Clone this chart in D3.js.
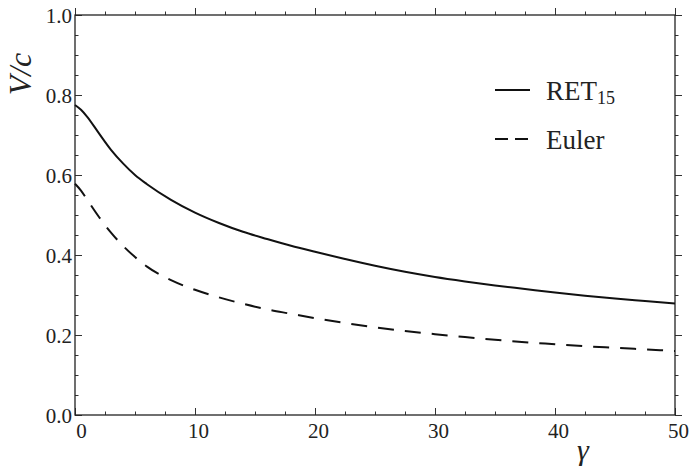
<!DOCTYPE html>
<html>
<head>
<meta charset="utf-8">
<script src="https://cdn.jsdelivr.net/npm/d3@7"></script>
<style>
  body { margin: 0; background: #fff; }
  svg { display: block; }
  svg text { font-family: "Liberation Serif", "Times New Roman", Tinos, "Nimbus Roman", FreeSerif, "DejaVu Serif", serif; fill: #222; }
</style>
</head>
<body>
<div class="chart"></div>
<script>
// values
const gammaValues = [0, 0.5, 1, 2, 3, 4, 5, 6, 8, 10, 12, 14, 16, 18, 20, 22.5, 25, 27.5, 30, 32.5, 35, 37.5, 40, 42.5, 45, 47.5, 50];
const retValues   = [0.775, 0.763, 0.746, 0.704, 0.663, 0.629, 0.600, 0.577, 0.538, 0.506, 0.480, 0.458, 0.440, 0.423, 0.408, 0.390, 0.373, 0.358, 0.345, 0.334, 0.324, 0.315, 0.306, 0.298, 0.291, 0.285, 0.279];
const eulerValues = [0.578, 0.561, 0.539, 0.495, 0.456, 0.423, 0.395, 0.371, 0.337, 0.313, 0.294, 0.278, 0.264, 0.253, 0.242, 0.230, 0.219, 0.210, 0.202, 0.195, 0.188, 0.182, 0.177, 0.172, 0.168, 0.164, 0.160];

const xMajorTicks = [0, 10, 20, 30, 40, 50];
const xMinorTicks = d3.range(0, 50.01, 2.5);
const yMajorTicks = [0, 0.2, 0.4, 0.6, 0.8, 1.0];
const yMinorTicks = d3.range(0, 1.001, 0.05);

const legendNames = ["RET", "Euler"];

document.addEventListener("DOMContentLoaded", function () {
    const width = 689, height = 473;
    const margin = { top: 15, right: 14, bottom: 58, left: 75 };
    const w = width - margin.left - margin.right;
    const h = height - margin.top - margin.bottom;

    const svg = d3.select(".chart").append("svg")
        .attr("width", width)
        .attr("height", height);

    const g = svg.append("g")
        .attr("transform", `translate(${margin.left},${margin.top})`);

    const x = d3.scaleLinear().domain([0, 50]).range([0, w]);
    const y = d3.scaleLinear().domain([0, 1]).range([h, 0]);

    // frame ticks, pointing inwards, on all four sides
    function tickAxis(axisFn, scale, values, size, fmt) {
        return axisFn(scale).tickValues(values).tickSizeInner(-size).tickSizeOuter(0).tickFormat(fmt || "");
    }

    const bottom = g.append("g").attr("transform", `translate(0,${h})`);
    bottom.call(tickAxis(d3.axisBottom, x, xMinorTicks, 3.5));
    bottom.append("g").call(tickAxis(d3.axisBottom, x, xMajorTicks, 7, d3.format("d")));

    const top = g.append("g");
    top.call(tickAxis(d3.axisTop, x, xMinorTicks, -3.5));
    top.append("g").call(tickAxis(d3.axisTop, x, xMajorTicks, -7));

    const left = g.append("g");
    left.call(tickAxis(d3.axisLeft, y, yMinorTicks, 3.5));
    left.append("g").call(tickAxis(d3.axisLeft, y, yMajorTicks, 7, d3.format(".1f")));

    const right = g.append("g").attr("transform", `translate(${w},0)`);
    right.call(tickAxis(d3.axisRight, y, yMinorTicks, -3.5));
    right.append("g").call(tickAxis(d3.axisRight, y, yMajorTicks, -7));

    g.selectAll("g").attr("font-family", null);
    g.selectAll(".tick line").attr("stroke", "#333").attr("stroke-width", 1);
    g.selectAll(".domain").remove();
    g.selectAll(".tick text").attr("fill", "#222").style("font-size", "21px");

    bottom.selectAll(".tick text").attr("y", 8).attr("dy", "0.71em").attr("dx", 3);
    bottom.selectAll(".tick text").filter(d => d === 0).attr("dx", 6);
    left.selectAll(".tick text").attr("x", -3).attr("dy", "0.36em");

    g.append("rect")
        .attr("width", w).attr("height", h)
        .attr("fill", "none").attr("stroke", "#222").attr("stroke-width", 1.3);

    // curves
    const retData = gammaValues.map((gm, i) => ({ g: gm, v: retValues[i] }));
    const eulerData = gammaValues.map((gm, i) => ({ g: gm, v: eulerValues[i] }));

    const line = d3.line()
        .x(d => x(d.g))
        .y(d => y(d.v))
        .curve(d3.curveMonotoneX);

    g.append("path").datum(retData)
        .attr("fill", "none").attr("stroke", "#111").attr("stroke-width", 2)
        .attr("d", line);

    g.append("path").datum(eulerData)
        .attr("fill", "none").attr("stroke", "#111").attr("stroke-width", 2)
        .attr("stroke-dasharray", "16,11")
        .attr("d", line);

    // legend
    const legend = svg.append("g");
    legend.append("line").attr("x1", 495).attr("x2", 530).attr("y1", 90).attr("y2", 90)
        .attr("stroke", "#111").attr("stroke-width", 2);
    const retLabel = legend.append("text").attr("x", 546).attr("y", 100).style("font-size", "27px");
    retLabel.append("tspan").text(legendNames[0]);
    retLabel.append("tspan").attr("dy", 4).style("font-size", "18px").text("15");

    legend.append("line").attr("x1", 495).attr("x2", 530).attr("y1", 139).attr("y2", 139)
        .attr("stroke", "#111").attr("stroke-width", 2).attr("stroke-dasharray", "13,7");
    legend.append("text").attr("x", 546).attr("y", 149).style("font-size", "27px").text(legendNames[1]);

    // axis titles
    svg.append("text")
        .attr("transform", "translate(31,74) rotate(-90)")
        .attr("text-anchor", "middle")
        .style("font-size", "32px").style("font-style", "italic")
        .text("V/c");

    svg.append("text")
        .attr("x", 583).attr("y", 460)
        .attr("text-anchor", "middle")
        .style("font-size", "30px").style("font-style", "italic")
        .text("γ");
});
</script>
</body>
</html>
